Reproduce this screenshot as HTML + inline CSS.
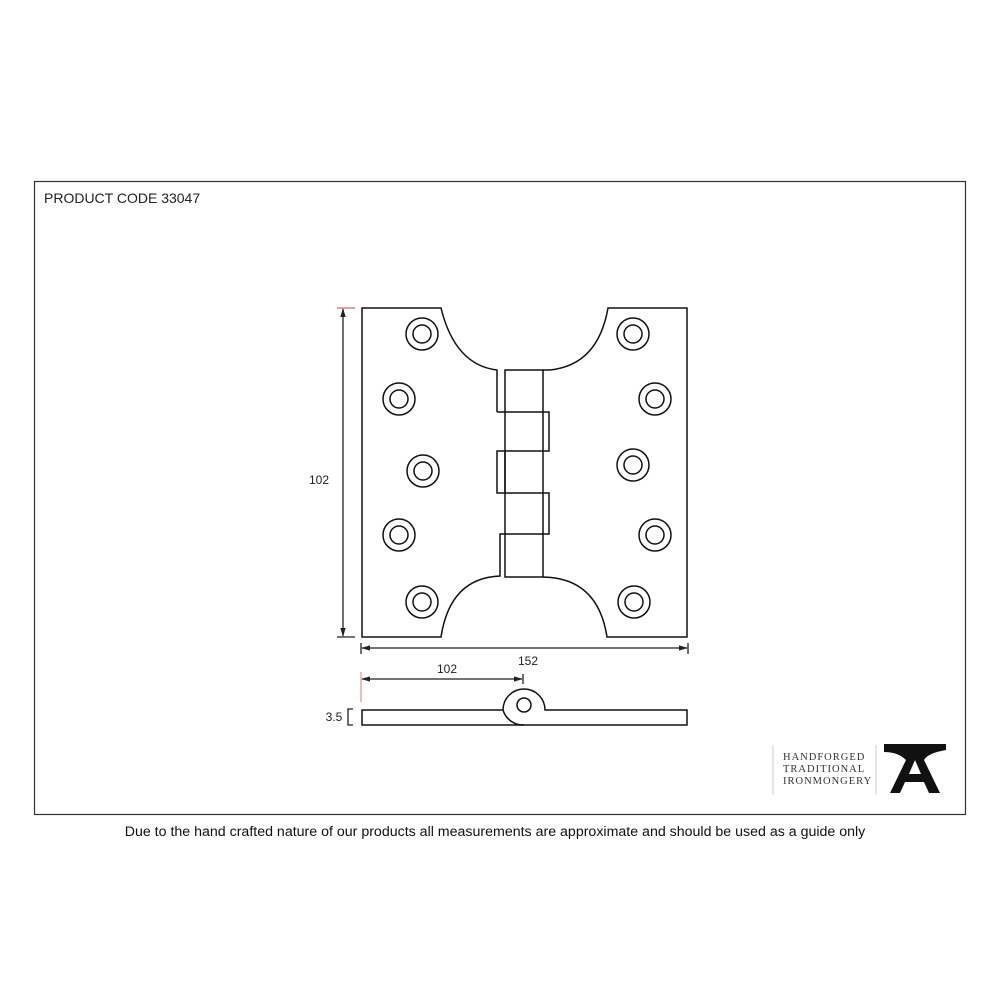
<!DOCTYPE html>
<html><head><meta charset="utf-8"><style>
html,body{margin:0;padding:0;background:#fff;}
svg{display:block;}
</style></head><body>
<svg width="1000" height="1000" viewBox="0 0 1000 1000" xmlns="http://www.w3.org/2000/svg">
<defs>
<marker id="a" viewBox="0 0 10 10" refX="9" refY="5" markerWidth="7" markerHeight="7" orient="auto-start-reverse"><path d="M0,2 L10,5 L0,8 z" fill="#222"/></marker>
</defs>
<rect x="34.5" y="181.5" width="931" height="633" fill="none" stroke="#333" stroke-width="1.2"/>
<text x="44" y="203" font-family="Liberation Sans, sans-serif" font-size="14" fill="#222">PRODUCT CODE 33047</text>
<text x="495" y="836" text-anchor="middle" font-family="Liberation Sans, sans-serif" font-size="14.2" fill="#111">Due to the hand crafted nature of our products all measurements are approximate and should be used as a guide only</text>

<g fill="none" stroke="#111" stroke-width="1.5">
<path d="M497,412 L497,370 Q455,365 441,308 L362,308 L362,637 L441,637 Q450,578 500,576 L500,534 L505,534"/>
<path d="M497,412 L505,412 M497,451 L505,451 L505,493 L497,493 Z M497,451 L497,493"/>
<path d="M505,370 L543,370 L543,577 L505,577 Z"/>
<path d="M505,412 L549,412 L549,451 L505,451 M505,493 L549,493 L549,534 L505,534"/>
<path d="M543,370 L550,370 Q598,365 608,308 L687,308 L687,637 L607,637 Q598,578 543,577"/>
<circle cx="422" cy="334" r="16"/><circle cx="422" cy="334" r="9"/>
<circle cx="399" cy="399" r="16"/><circle cx="399" cy="399" r="9"/>
<circle cx="423" cy="471" r="16"/><circle cx="423" cy="471" r="9"/>
<circle cx="399" cy="535" r="16"/><circle cx="399" cy="535" r="9"/>
<circle cx="422" cy="602" r="16"/><circle cx="422" cy="602" r="9"/>
<circle cx="633" cy="334" r="16"/><circle cx="633" cy="334" r="9"/>
<circle cx="655" cy="399" r="16"/><circle cx="655" cy="399" r="9"/>
<circle cx="633" cy="465" r="16"/><circle cx="633" cy="465" r="9"/>
<circle cx="655" cy="535" r="16"/><circle cx="655" cy="535" r="9"/>
<circle cx="634" cy="602" r="16"/><circle cx="634" cy="602" r="9"/>
<path d="M362,710 L503,710 A21,21 0 1 1 545,710 L687,710 L687,725 L362,725 Z"/>
<path d="M503,710 A21,21 0 0 0 524,725"/>
<circle cx="524" cy="705" r="7"/>
</g>
<g stroke="#222" stroke-width="1.3" fill="none">
<line x1="343" y1="309" x2="343" y2="636" marker-start="url(#a)" marker-end="url(#a)"/>
<line x1="337" y1="308" x2="355" y2="308" stroke="#c66"/>
<line x1="337" y1="637" x2="355" y2="637"/>
<line x1="362" y1="648" x2="687" y2="648" marker-start="url(#a)" marker-end="url(#a)"/>
<line x1="361" y1="643" x2="361" y2="654"/><line x1="688" y1="643" x2="688" y2="654"/>
<line x1="362" y1="679" x2="522" y2="679" marker-start="url(#a)" marker-end="url(#a)"/>
<line x1="361" y1="672" x2="361" y2="702" stroke="#e99"/>
<line x1="523" y1="674" x2="523" y2="684"/>
<path d="M353,709 L348,709 L348,725 L353,725"/>
</g>
<g font-family="Liberation Sans, sans-serif" font-size="12" fill="#222">
<text x="319" y="484" text-anchor="middle">102</text>
<text x="528" y="665" text-anchor="middle">152</text>
<text x="447" y="673" text-anchor="middle">102</text>
<text x="334" y="721" text-anchor="middle">3.5</text>
</g>
<line x1="773" y1="745" x2="773" y2="795" stroke="#ccc"/>
<line x1="876" y1="745" x2="876" y2="795" stroke="#ccc"/>
<g font-family="Liberation Serif, serif" font-size="10.5" fill="#333" letter-spacing="1">
<text x="783" y="760">HANDFORGED</text>
<text x="783" y="772">TRADITIONAL</text>
<text x="783" y="784">IRONMONGERY</text>
</g>
<path d="M884,744 L946,744 L946,750 Q928,753 924,760 L940,793 L929,793 L924,782 L905,782 L900,793 L890,793 L906,760 Q898,752 884,752 Z M909,774 L921,774 L915,760 Z" fill="#111"/>
</svg>
</body></html>
